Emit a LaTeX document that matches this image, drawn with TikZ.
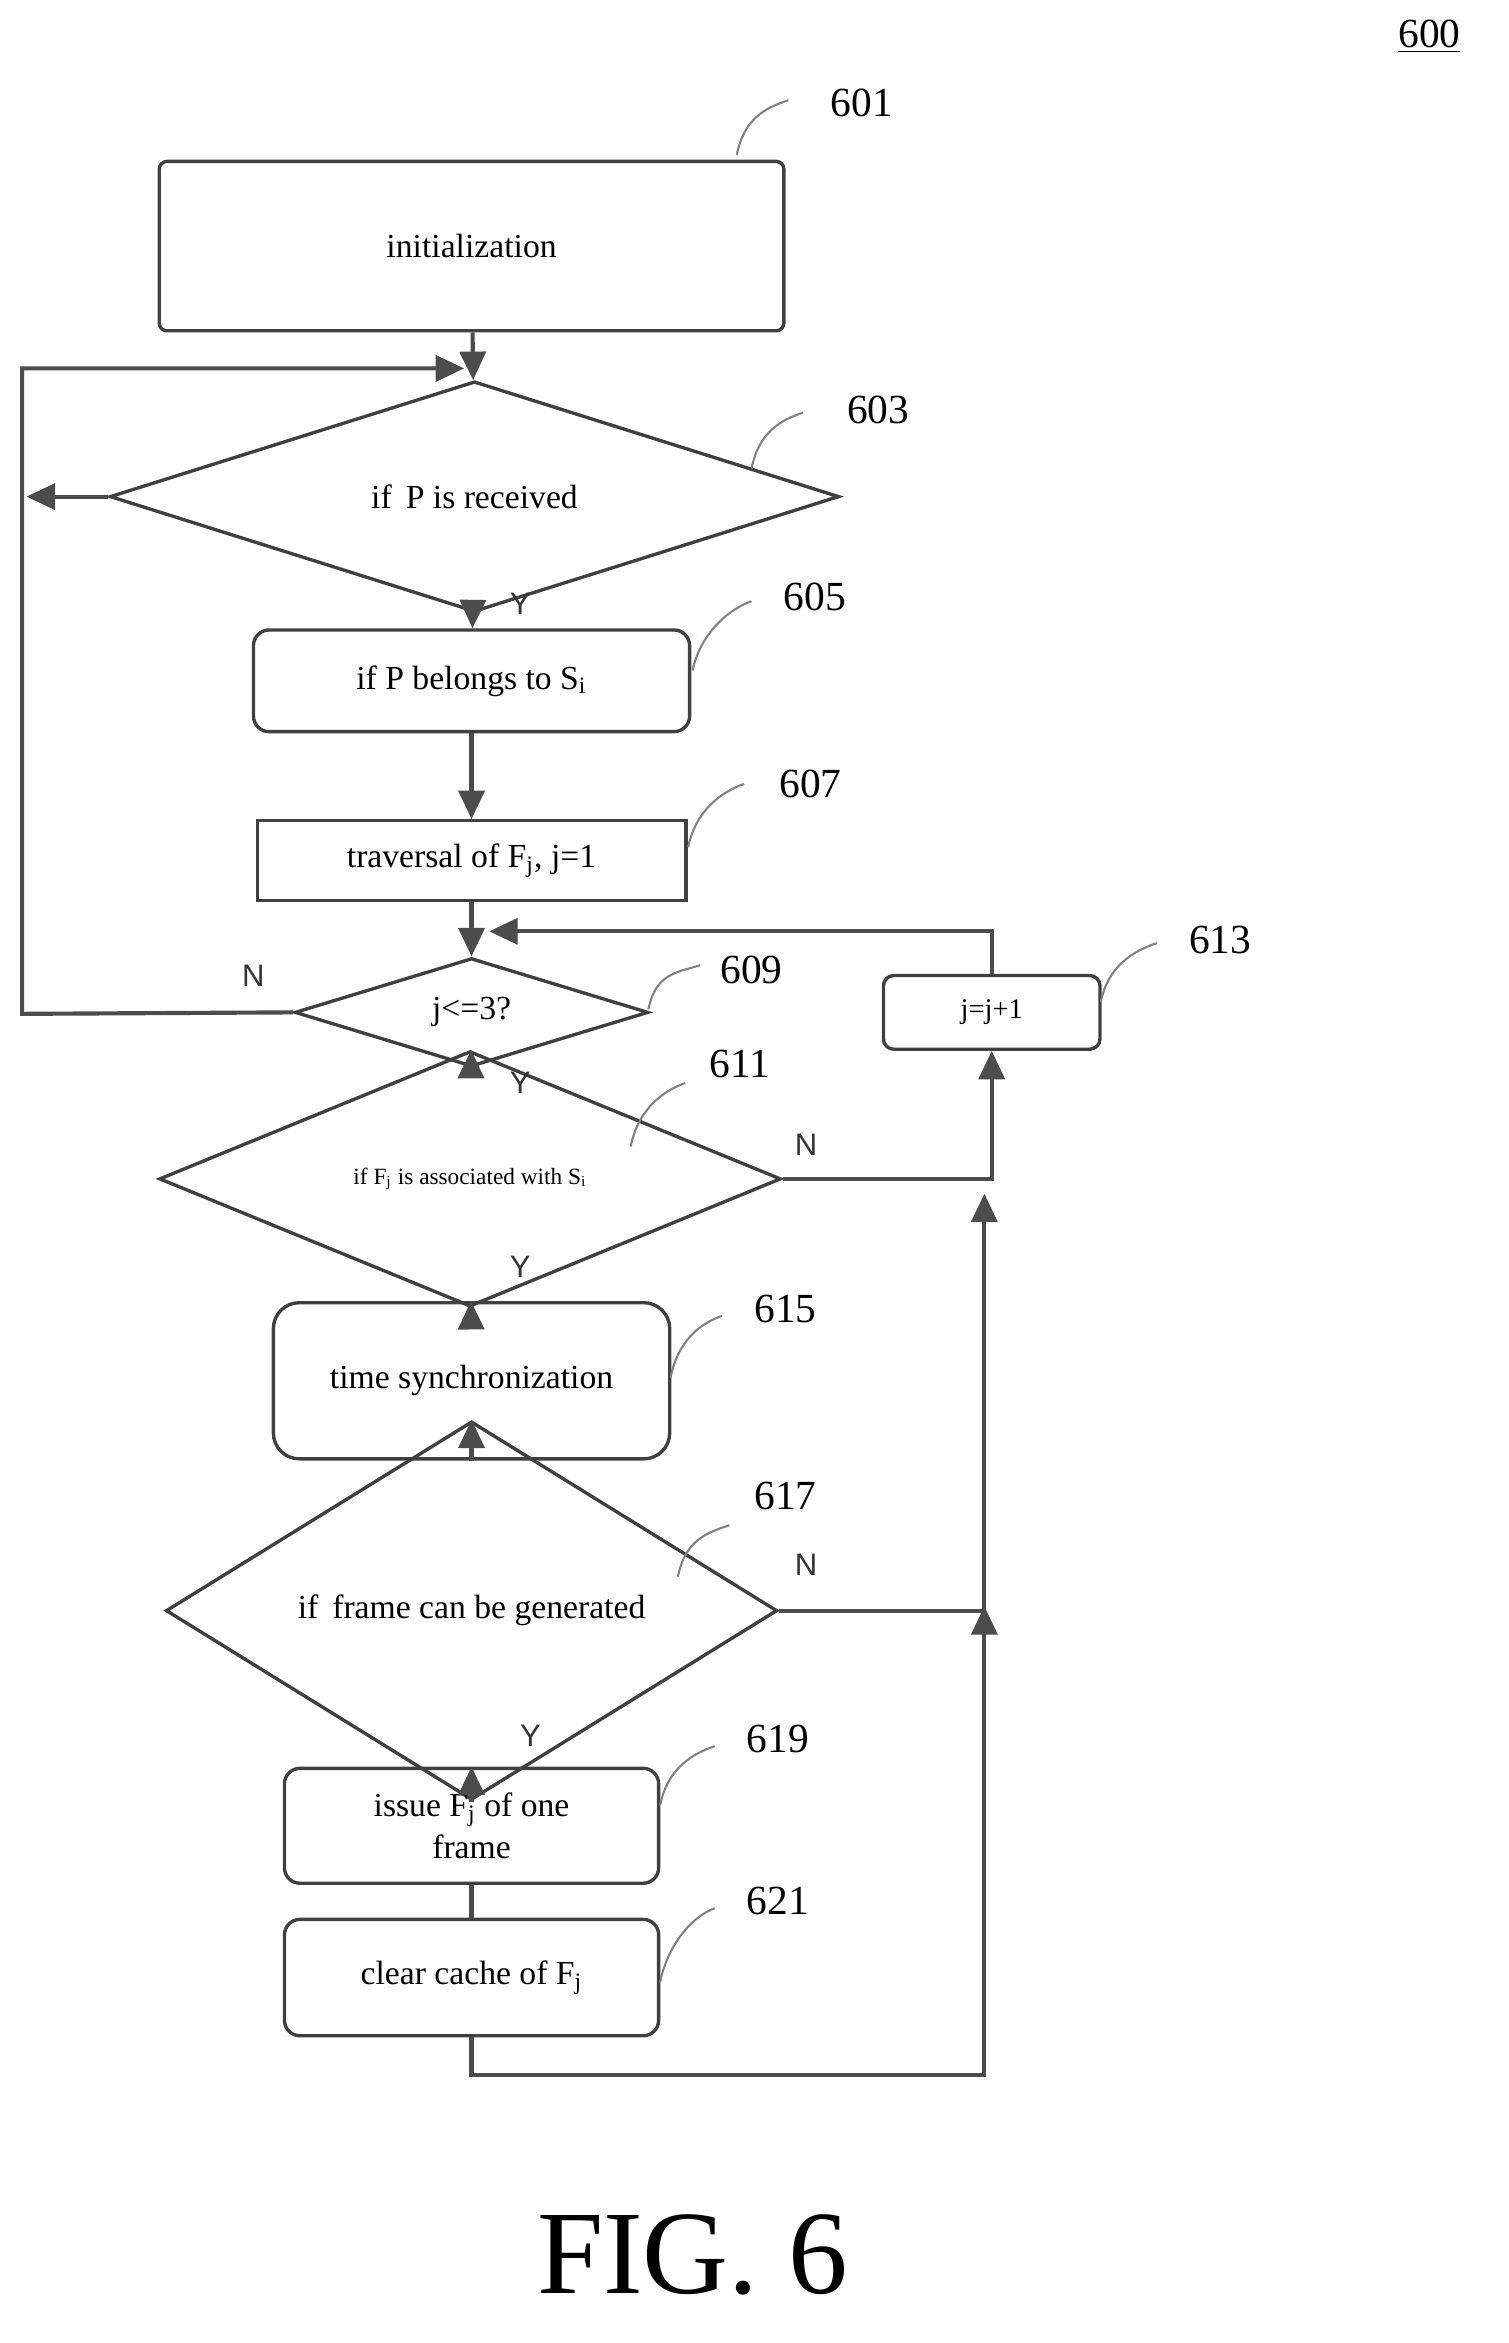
\documentclass[tikz,border=0pt]{standalone}
\usepackage{fontspec}
\setmainfont{Liberation Serif}
\newfontfamily\yn{Liberation Sans}
\usetikzlibrary{shapes.geometric,arrows.meta}

\tikzset{
  flow/.style={draw=black!70, line width=1.6pt},
  go/.style={flow, -{Triangle[length=11pt,width=10pt]}},
  box/.style={draw=black!75, line width=1.3pt, inner sep=0pt, align=center, font=\fontsize{13}{16}\selectfont},
  stage/.style={box, rounded corners=6pt},
  test/.style={box, diamond},
  yn/.style={font=\yn\fontsize{12}{14}\selectfont, text=black!80},
  tag/.style={font=\fontsize{16}{18}\selectfont},
  lead/.style={draw=black!50, line width=0.8pt},
}

\begin{document}
\begin{tikzpicture}[x=0.02cm, y=-0.02cm]
    \useasboundingbox (0,0) rectangle (1024,1590);
    % boxes and tests
    \node[stage, rounded corners=3pt, minimum width=8.48cm, minimum height=2.3cm] (init) at (320,167) {initialization};
    \node[test, minimum width=9.9cm, minimum height=2.0cm] (recv) at (322,337) {if\, P is received};
    \node[stage, minimum width=5.92cm, minimum height=1.38cm] (belong) at (320,462) {if P belongs to S$_\mathrm{i}$};
    \node[box, minimum width=5.82cm, minimum height=1.08cm] (trav) at (320,584) {traversal of F$_\mathrm{j}$, j=1};
    \node[test, minimum width=4.8cm, minimum height=1.26cm] (cmp) at (320,687) {j<=3?};
    \node[test, minimum width=8.44cm, minimum height=1.96cm, font=\fontsize{9}{11}\selectfont] (assoc) at (319,800) {if F$_\mathrm{j}$ is associated with S$_\mathrm{i}$};
    \node[stage, rounded corners=4pt, minimum width=2.94cm, minimum height=1.0cm, font=\fontsize{11}{13}\selectfont] (incr) at (673,687) {j=j+1};
    \node[stage, rounded corners=10pt, minimum width=5.38cm, minimum height=2.12cm] (sync) at (320,937) {time synchronization};
    \node[test, minimum width=8.3cm, minimum height=2.46cm] (gen) at (320,1093) {if\, frame can be generated};
    \node[stage, minimum width=5.08cm, minimum height=1.56cm] (issue) at (320,1239) {issue F$_\mathrm{j}$ of one\\frame};
    \node[stage, minimum width=5.08cm, minimum height=1.58cm] (clear) at (320,1342) {clear cache of F$_\mathrm{j}$};

    % free ends
    \coordinate (loopin) at (315,250);
    \coordinate (leftout) at (18,337);
    \coordinate (incrin) at (332,632);

    % main line
    \draw[go] (init) -- (recv);
    \draw[go] (recv) -- (belong);
    \draw[go] (belong) -- (trav);
    \draw[go] (trav) -- (cmp);
    \draw[go] (cmp) -- (assoc);
    \draw[go] (assoc) -- (sync);
    \draw[go] (sync) -- (gen);
    \draw[go] (gen) -- (issue);
    \draw[flow] (issue) -- (clear);

    % branches
    \draw[go] (recv.west) -- (leftout);
    \draw[go] (cmp.west) -- (15,688) -- (15,250) -- (loopin);
    \draw[go] (incr.north) |- (incrin);
    \draw[go] (assoc.east) -| (incr.south);
    \draw[flow] (gen.east) -- (668,1093);
    \draw[go] (668,1093) -- (668,810);
    \draw[flow] (clear.south) |- (668,1408) -- (668,1150);
    \draw[go] (668,1150) -- (668,1090);

    % Y / N
    \node[yn] (y1) at (353,410) {Y};
    \node[yn] (n1) at (172,662) {N};
    \node[yn] (y2) at (353,735) {Y};
    \node[yn] (n2) at (547,777) {N};
    \node[yn] (y3) at (353,860) {Y};
    \node[yn] (n3) at (547,1062) {N};
    \node[yn] (y4) at (360,1178) {Y};

    % reference numerals
    \foreach \n/\tx/\ty/\ax/\ay/\bx/\by in {601/585/70/500/105/535/68, 603/596/278/510/318/545/280,
      605/553/405/470/455/510/408, 607/550/532/467/575/505/532, 609/510/658/440/685/475/655,
      611/502/722/428/778/465/735, 613/828/638/747/680/785/640, 615/533/888/455/935/490/893,
      617/533/1015/460/1070/495/1035, 619/528/1180/448/1225/485/1185, 621/528/1290/448/1345/485/1295} {
      \node[tag] (t\n) at (\tx,\ty) {\n};
      \draw[lead] (\ax,\ay) .. controls (\ax+5,\ay-25) and (\bx-15,\by+5) .. (\bx,\by);
    }
    \node[tag] (fig) at (970,25) {\underline{600}};
    \node[font=\fontsize{46}{50}\selectfont] (cap) at (470,1530) {FIG. 6};
\end{tikzpicture}
\end{document}
